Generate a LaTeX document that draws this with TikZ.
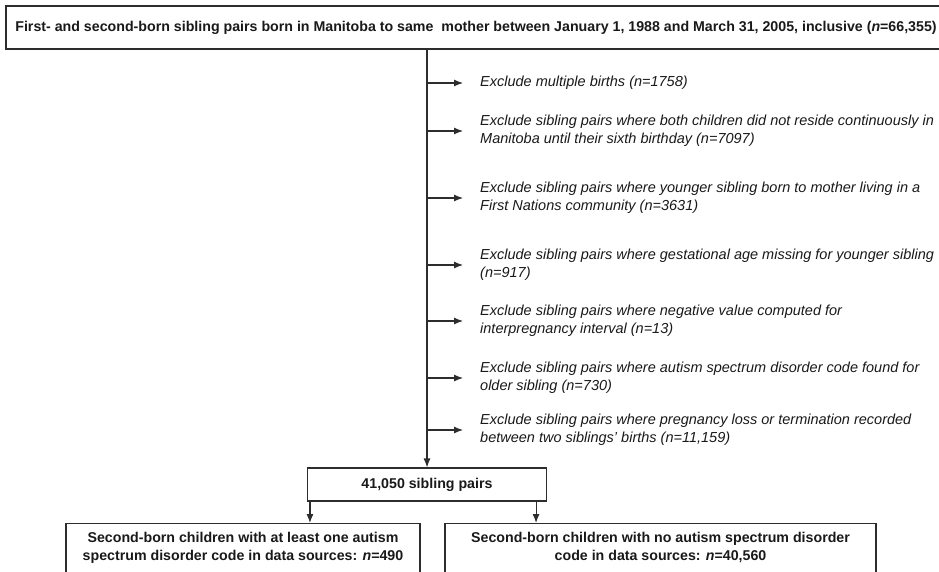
\documentclass[tikz,border=0pt]{standalone}
\usepackage{fontspec}
\setmainfont{Liberation Sans}
\usepackage{xcolor}
\usepackage{tikz}
\usetikzlibrary{arrows.meta,positioning}
\definecolor{linegray}{RGB}{45,45,45}
\definecolor{inkgray}{RGB}{25,25,25}

\begin{document}
\begin{tikzpicture}[
    x=1pt, y=-1pt,
    countbox/.style={rectangle, draw=linegray, line width=1.1pt, text=inkgray, align=center, font=\bfseries\fontsize{14.2}{17.5}\selectfont},
    excludenote/.style={anchor=west, inner sep=0pt, text=inkgray, align=left, font=\itshape\fontsize{14.5}{17.8}\selectfont},
    flowline/.style={draw=linegray, line width=1.1pt, -{Latex[length=9pt,width=7pt]}}
]
    \useasboundingbox (0,0) rectangle (939,572);
    \clip (0,0) rectangle (939,572);

    \node[countbox, minimum width=940pt, minimum height=43pt] (cohort) at (476,27.5)
        {First- and second-born sibling pairs born in Manitoba to same\ \ mother between January 1, 1988 and March 31, 2005, inclusive (\textit{n}=66,355)};
    \node[countbox, minimum width=239pt, minimum height=33pt] (pairs) at (427,484.5) {41,050 sibling pairs};
    \node[countbox, anchor=north, inner ysep=9pt, minimum width=354pt] (cases) at (243,523)
        {Second-born children with at least one autism\\spectrum disorder code in data sources: \textit{n}=490\\\rule{0pt}{30pt}};
    \node[countbox, anchor=north, inner ysep=9pt, minimum width=431pt] (controls) at (660.5,523)
        {Second-born children with no autism spectrum disorder\\code in data sources: \textit{n}=40,560\\\rule{0pt}{30pt}};

    % exclusions
    \node[excludenote] (multiple) at (480,83) {Exclude multiple births (n=1758)};
    \node[excludenote] (residence) at (480,131) {Exclude sibling pairs where both children did not reside continuously in\\Manitoba until their sixth birthday (n=7097)};
    \node[excludenote] (firstnations) at (480,198) {Exclude sibling pairs where younger sibling born to mother living in a\\First Nations community (n=3631)};
    \node[excludenote] (gestation) at (480,265) {Exclude sibling pairs where gestational age missing for younger sibling\\(n=917)};
    \node[excludenote] (interval) at (480,321) {Exclude sibling pairs where negative value computed for\\interpregnancy interval (n=13)};
    \node[excludenote] (oldersib) at (480,378) {Exclude sibling pairs where autism spectrum disorder code found for\\older sibling (n=730)};
    \node[excludenote] (pregloss) at (480,430) {Exclude sibling pairs where pregnancy loss or termination recorded\\between two siblings' births (n=11,159)};

    \draw[flowline] (pairs.north |- cohort.south) -- (pairs.north);
    \foreach \note in {multiple,residence,firstnations,gestation,interval,oldersib,pregloss}
        \draw[flowline, shorten >=17pt] (pairs.north |- \note.west) -- (\note.west);
    \draw[flowline] ([xshift=3pt]pairs.south west) -- ([xshift=3pt]pairs.south west |- cases.north);
    \draw[flowline] ([xshift=-11pt]pairs.south east) -- ([xshift=-11pt]pairs.south east |- controls.north);
\end{tikzpicture}
\end{document}
